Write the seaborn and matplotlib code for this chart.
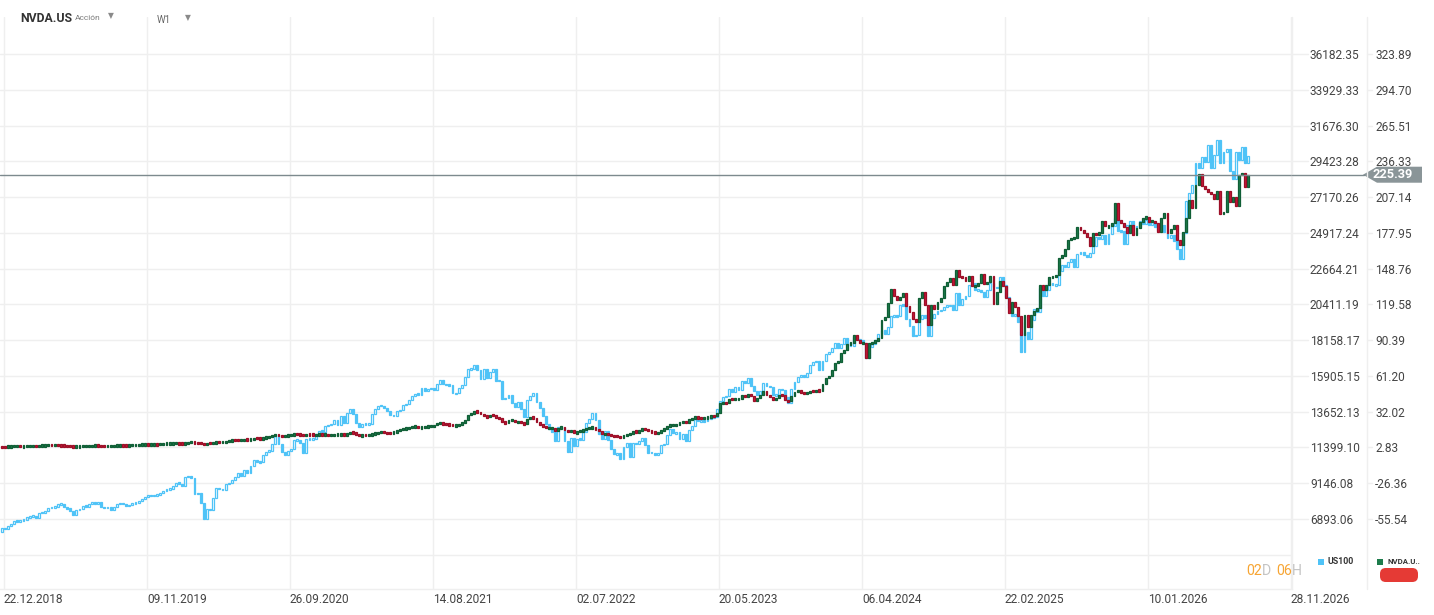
import numpy as np
import pandas as pd
import matplotlib
matplotlib.use("Agg")
import matplotlib.pyplot as plt
import matplotlib.dates as mdates
from matplotlib.patches import Polygon, Rectangle, FancyBboxPatch
from matplotlib.lines import Line2D
import seaborn as sns

# ---------------- data (weekly closes) ----------------
first_week = "2018-12-17"

us100_open0 = 6100
us100_2018 = [6330, 6260]
us100_2019 = [6430, 6590, 6780, 6760, 6800, 6840, 6990, 7080, 7110, 6930, 7300, 7280, 7380,
              7580, 7630, 7650, 7820, 7850, 7620, 7570, 7380, 7130, 7480, 7500, 7720, 7670,
              7860, 7940, 7850, 7990, 7620, 7600, 7630, 7450, 7660, 7860, 7900, 7850, 7700,
              7800, 7900, 7900, 8040, 8170, 8280, 8400, 8330, 8400, 8420, 8520, 8670, 8780]
us100_2020 = [8790, 8970, 9180, 9110, 8990, 9520, 9620, 9450, 8460, 8530, 7870, 6880, 7500,
              7490, 8230, 8830, 8780, 8720, 9120, 9150, 9320, 9560, 9820, 9590, 9950, 9760,
              10210, 10590, 10510, 10460, 10910, 11140, 11180, 11590, 12110, 11620, 11090,
              10940, 11150, 11300, 11860, 11900, 11670, 11050, 11940, 11940, 11940, 12260,
              12460, 12380, 12760, 12800]
us100_2021 = [12890, 13100, 12800, 13370, 12930, 13600, 13800, 13530, 12910, 12670, 12880,
              12860, 12900, 13480, 13850, 14040, 14020, 13860, 13720, 13430, 13400, 13690,
              13770, 14070, 14140, 14360, 14640, 14770, 14730, 15120, 14960, 15090, 15130,
              15030, 15370, 15650, 15400, 15330, 15310, 14800, 14800, 15130, 15350, 15850,
              16340, 16340, 16570, 16260, 15710, 16330, 15750, 16170, 16320]
us100_2022 = [15600, 15610, 14440, 14530, 14690, 14220, 13930, 14270, 13840, 13300, 14420,
              14670, 14860, 14280, 13900, 13380, 12850, 12580, 12390, 11830, 12680, 12620,
              11830, 11130, 11970, 11500, 11950, 11880, 12400, 12950, 13210, 13560, 13140,
              12270, 11930, 12420, 11870, 11310, 10970, 11040, 10690, 11450, 11670, 10790,
              11660, 11620, 11790, 12000, 11550, 11080, 11060, 10940]
us100_2023 = [11040, 11540, 11620, 12170, 12570, 12300, 12350, 11950, 12260, 11830, 12520,
              12770, 13180, 13060, 13080, 13050, 13250, 13240, 13340, 13820, 14300, 14550,
              14650, 15080, 14890, 15180, 15030, 15570, 15450, 15750, 15270, 14950, 14690,
              14940, 15430, 15290, 15200, 14700, 14720, 15080, 15000, 14550, 14180, 15100,
              15530, 15840, 15980, 15840, 16080, 16620, 16780, 16830]
us100_2024 = [16300, 16830, 17310, 17420, 17640, 18000, 17690, 17940, 18300, 17960, 17800,
              18340, 18250, 18170, 18000, 17040, 17720, 17890, 18160, 18550, 18810, 18540,
              19000, 19660, 19700, 19680, 20390, 20330, 19520, 19020, 18440, 18460, 19510,
              19720, 19570, 18420, 19580, 19790, 20000, 20040, 20270, 20320, 20350, 20030,
              21120, 20390, 20740, 20930, 21620, 21780, 21290, 21330]
us100_2025 = [21210, 20850, 21300, 21740, 21480, 21490, 22110, 21610, 20880, 20200, 19700,
              19750, 19280, 17400, 18690, 18260, 19430, 20100, 19930, 21430, 20920, 21340,
              21760, 21630, 21630, 22530, 22870, 22780, 23070, 23270, 22760, 23610, 23710,
              23500, 23420, 23650, 24090, 24630, 24500, 24790, 24220, 24820, 25350, 25860,
              25060, 25010, 24240, 25430, 25690, 25200, 25350, 25650]
us100_2026 = [25500, 25700, 25400, 25600, 25300, 25100, 25400, 25000, 24600, 24800, 24400,
              23900, 23300, 24900, 26900, 27400, 27900, 29300, 29000, 29700, 29400, 30450,
              29000, 29800, 30750, 29300, 30000, 30200, 28800, 28300, 30000, 29500, 30300,
              29300, 29750]

nvda_open0 = 3.45
nvda_2018 = [3.40, 3.33]
nvda_2019 = [3.60, 3.80, 3.90, 4.00, 3.62, 3.65, 3.95, 3.95, 3.95, 3.75, 4.30, 4.40, 4.49,
             4.75, 4.60, 4.78, 4.50, 4.45, 4.25, 3.95, 3.75, 3.38, 3.63, 3.63, 4.00, 4.11,
             4.13, 4.20, 4.45, 4.20, 4.00, 3.75, 3.95, 4.00, 4.17, 4.50, 4.58, 4.45, 4.30,
             4.65, 4.75, 4.78, 5.08, 5.13, 5.23, 5.20, 5.25, 5.40, 5.20, 5.63, 5.90, 5.95]
nvda_2020 = [6.00, 6.25, 6.25, 6.13, 5.92, 6.30, 7.12, 7.38, 6.70, 6.50, 6.00, 5.00, 6.58,
             6.25, 6.63, 7.25, 7.08, 7.13, 7.75, 8.00, 9.00, 8.88, 8.80, 8.88, 9.38, 9.13,
             9.50, 10.38, 10.25, 9.88, 10.63, 11.13, 11.50, 12.63, 13.13, 12.63, 12.13, 12.25,
             12.88, 13.00, 14.13, 13.63, 13.50, 12.50, 13.63, 13.50, 13.00, 13.38, 13.50,
             13.25, 13.25, 13.00]
nvda_2021 = [13.05, 13.30, 13.40, 13.70, 13.00, 14.00, 15.20, 14.80, 13.70, 12.30, 12.90,
             12.80, 12.90, 13.80, 14.40, 15.30, 15.50, 15.00, 14.50, 14.40, 15.50, 16.20,
             17.50, 17.90, 18.80, 19.00, 20.00, 20.00, 19.00, 19.50, 19.50, 20.20, 20.30,
             20.80, 22.70, 22.80, 22.20, 22.00, 21.40, 20.70, 20.80, 21.80, 22.70, 25.50,
             29.70, 30.40, 32.90, 31.50, 30.20, 28.20, 27.80, 29.60, 29.40]
nvda_2022 = [27.2, 26.5, 23.3, 22.9, 25.0, 25.0, 23.6, 24.1, 23.0, 21.9, 26.4, 27.7, 26.7,
             23.3, 21.5, 20.1, 18.5, 18.7, 18.7, 16.6, 18.8, 19.3, 17.0, 15.8, 17.1, 14.5,
             15.9, 16.2, 17.4, 18.2, 19.0, 19.0, 17.5, 16.3, 13.7, 14.3, 13.2, 12.5, 12.1,
             12.0, 11.2, 12.5, 13.8, 14.1, 16.3, 15.4, 16.5, 18.7, 17.5, 16.6, 15.3, 14.6]
nvda_2023 = [14.9, 16.9, 17.8, 20.3, 21.1, 21.3, 21.4, 23.3, 23.9, 22.9, 25.7, 26.7, 27.8,
             27.0, 26.7, 27.1, 27.7, 28.7, 28.3, 31.3, 38.9, 39.3, 38.8, 42.6, 42.2, 42.3,
             42.5, 45.5, 44.4, 46.8, 44.7, 40.9, 43.3, 46.0, 48.5, 45.6, 43.9, 41.6, 43.5,
             45.7, 45.5, 41.3, 40.5, 45.0, 48.3, 49.3, 47.8, 46.7, 47.5, 48.9, 48.8, 49.5]
nvda_2024 = [49.1, 54.7, 59.5, 61.0, 66.2, 72.1, 72.6, 79.9, 82.3, 87.5, 87.9, 94.3, 90.4,
             88.0, 88.1, 76.2, 87.7, 88.8, 89.9, 92.5, 106.5, 109.6, 120.9, 131.9, 126.6,
             123.5, 125.8, 129.2, 117.9, 113.1, 107.3, 104.8, 124.6, 129.4, 119.4, 102.8,
             119.1, 116.0, 121.4, 124.9, 134.8, 138.0, 141.5, 135.4, 148.0, 142.0, 141.9,
             138.3, 142.4, 134.3, 134.7, 137.0]
nvda_2025 = [144.5, 135.9, 137.7, 142.6, 120.1, 129.8, 138.9, 134.4, 124.9, 112.7, 121.7,
             117.7, 109.7, 94.3, 110.9, 101.5, 111.0, 114.5, 116.7, 135.4, 131.3, 135.1,
             141.7, 142.0, 143.9, 157.8, 159.3, 164.9, 172.4, 173.5, 173.7, 182.7, 180.5,
             178.0, 174.2, 167.0, 177.8, 176.7, 178.2, 187.6, 183.2, 183.2, 186.3, 202.5,
             188.2, 186.0, 183.0, 178.0, 184.0, 176.0, 182.0, 187.0]
nvda_2026 = [190, 191, 187, 188, 186, 179, 190, 194, 178, 181, 184, 172, 168, 179, 190, 205,
             198, 217, 226, 216, 214, 211, 210, 205.6, 212, 193, 195, 212, 203, 207, 200,
             225, 227, 215, 225.39]

us100_tick_labels = ["36182.35", "33929.33", "31676.30", "29423.28", "27170.26", "24917.24",
                     "22664.21", "20411.19", "18158.17", "15905.15", "13652.13", "11399.10",
                     "9146.08", "6893.06"]
us100_extra_grid = [4640.04]
nvda_tick_labels = ["323.89", "294.70", "265.51", "236.33", "207.14", "177.95", "148.76",
                    "119.58", "90.39", "61.20", "32.02", "2.83", "-26.36", "-55.54"]
nvda_extra_grid = [-84.73]
date_labels = ["22.12.2018", "09.11.2019", "26.09.2020", "14.08.2021", "02.07.2022",
               "20.05.2023", "06.04.2024", "22.02.2025", "10.01.2026", "28.11.2026"]

symbol = "NVDA.US"
asset_kind = "Acción"
interval = "W1"
legend_names = ["US100", "NVDA.U.."]
countdown = [("02", "#f7a533"), ("D", "#c4c4c4"), (" ", "#c4c4c4"), ("06", "#f7a533"),
             ("H", "#c4c4c4")]

# ---------------- styling ----------------
W, H = 1434, 615
BLUE = "#4fc3f7"
GREEN, GREEN_E = "#1d7c4c", "#0f5e35"
RED, RED_E = "#c8193a", "#9c0f27"
GRID = "#efefef"
TXT = "#444444"

sns.set_theme(style="white")
plt.rcParams["font.family"] = ["Roboto", "DejaVu Sans"]


def fx(px):
    return px / W


def fy(py):
    return 1 - py / H


fig = plt.figure(figsize=(W / 100, H / 100), dpi=100)
fig.patch.set_facecolor("white")
ax = fig.add_axes([0, fy(589), fx(1292), (589 - 17) / H])
ax2 = ax.twinx()

us_close = np.array(us100_2018 + us100_2019 + us100_2020 + us100_2021 + us100_2022 +
                    us100_2023 + us100_2024 + us100_2025 + us100_2026, float)
nv_close = np.array(nvda_2018 + nvda_2019 + nvda_2020 + nvda_2021 + nvda_2022 +
                    nvda_2023 + nvda_2024 + nvda_2025 + nvda_2026, float)
dates = pd.date_range(first_week, periods=len(us_close), freq="W-MON")
xs = mdates.date2num(dates)

us_open = np.concatenate([[us100_open0], us_close[:-1]])
nv_open = np.concatenate([[nvda_open0], nv_close[:-1]])

# y scales (both price columns share the same gridlines)
us_vals = [float(v) for v in us100_tick_labels]
nv_vals = [float(v) for v in nvda_tick_labels]
us_step = (us_vals[0] - us_vals[-1]) / (len(us_vals) - 1)
nv_step = (nv_vals[0] - nv_vals[-1]) / (len(nv_vals) - 1)
px_per_step = (519 - 54) / (len(us_vals) - 1)
us_pp = us_step / px_per_step
nv_pp = nv_step / px_per_step
ax.set_ylim(us_vals[0] - (589 - 54) * us_pp, us_vals[0] + (54 - 17) * us_pp)
ax2.set_ylim(nv_vals[0] - (589 - 54) * nv_pp, nv_vals[0] + (54 - 17) * nv_pp)

# x scale
tick_dates = pd.to_datetime(date_labels, format="%d.%m.%Y")
tnum = mdates.date2num(tick_dates)
px_per_day = (1291 - 4) / (tnum[-1] - tnum[0])
x_left = tnum[0] - 4 / px_per_day
ax.set_xlim(x_left, x_left + 1292 / px_per_day)


def candles(axh, o, c, min_h, hollow_up, up_face, up_edge, dn_face, dn_edge):
    lo = np.minimum(o, c)
    hi = np.maximum(o, c)
    h = hi - lo
    mid = (lo + hi) / 2
    small = h < min_h
    lo = np.where(small, mid - min_h / 2, lo)
    h = np.where(small, min_h, h)
    up = c >= o
    dn = ~up
    width = 1.9 / px_per_day
    axh.bar(xs[up], h[up], bottom=lo[up], width=width,
            color=("none" if hollow_up else up_face), edgecolor=up_edge,
            linewidth=0.9, zorder=3)
    axh.bar(xs[dn], h[dn], bottom=lo[dn], width=width, color=dn_face,
            edgecolor=dn_edge, linewidth=0.9, zorder=3)


candles(ax, us_open, us_close, 1.6 * us_pp, True, BLUE, BLUE, BLUE, BLUE)
candles(ax2, nv_open, nv_close, 2.4 * nv_pp, False, GREEN, GREEN_E, RED, RED_E)

# grid and ticks
ax.set_yticks(us_vals + us100_extra_grid)
ax.set_yticklabels(us100_tick_labels + [""] * len(us100_extra_grid))
ax2.set_yticks(nv_vals + nvda_extra_grid)
ax2.set_yticklabels(nvda_tick_labels + [""] * len(nvda_extra_grid))
ax.yaxis.tick_right()
ax.tick_params(axis="y", length=0, pad=18 * 0.72, labelsize=8.6, labelcolor=TXT)
ax2.tick_params(axis="y", length=0, pad=83 * 0.72, labelsize=8.6, labelcolor=TXT)
ax.set_xticks(tnum)
ax.set_xticklabels(date_labels)
for lab in ax.get_xticklabels():
    lab.set_horizontalalignment("left")
ax.tick_params(axis="x", length=0, pad=3, labelsize=8.6, labelcolor=TXT)
ax.grid(True, color=GRID, linewidth=1.0)
ax2.grid(False)
ax.set_axisbelow(True)
for a in (ax, ax2):
    for s in ("top", "left", "right", "bottom"):
        a.spines[s].set_visible(False)
    a.patch.set_alpha(0)
ax.spines["bottom"].set_visible(True)
ax.spines["bottom"].set_color(GRID)
ax.spines["bottom"].set_linewidth(1.0)

# column separators and tick dashes
for xp in (1292, 1367):
    fig.add_artist(Line2D([fx(xp), fx(xp)], [fy(17), fy(589)], color=GRID, lw=1.0))
for v in us_vals:
    yy = fig.transFigure.inverted().transform(ax.transData.transform((x_left, v)))[1]
    fig.add_artist(Line2D([fx(1292), fx(1308)], [yy, yy], color=GRID, lw=1.0))
    fig.add_artist(Line2D([fx(1367), fx(1372)], [yy, yy], color=GRID, lw=1.0))

# last price line and label
last = nv_close[-1]
ax2.axhline(last, color="#7d8a8e", lw=1.0, zorder=4)
yl = fig.transFigure.inverted().transform(ax2.transData.transform((x_left, last)))[1]
fig.add_artist(Line2D([fx(1292), fx(1364)], [yl, yl], color="#7d8a8e", lw=1.0))
hh = 8 / H
poly = Polygon([(fx(1363), yl), (fx(1377), yl + hh), (fx(1422), yl + hh),
                (fx(1422), yl - hh), (fx(1377), yl - hh)], closed=True,
               transform=fig.transFigure, facecolor="#8a9598", edgecolor="none")
fig.add_artist(poly)
fig.text(fx(1393), yl, f"{last:.2f}", color="white", fontsize=9.2, fontweight="bold",
         ha="center", va="center", zorder=6)

# header
fig.text(fx(20), fy(18), symbol, fontsize=8.8, fontweight="bold", color="#333333",
         va="center", ha="left", zorder=6)
fig.text(fx(75), fy(18.5), asset_kind, fontsize=6.0, color="#7a7a7a", va="center",
         ha="left", zorder=6)
fig.text(fx(111), fy(16), "▼", fontsize=5.5, color="#8a8a8a", va="center", ha="center",
         zorder=6)
fig.text(fx(157), fy(20), interval, fontsize=7.0, color="#666666", va="center", ha="left",
         zorder=6)
fig.text(fx(188), fy(18), "▼", fontsize=5.5, color="#8a8a8a", va="center", ha="center",
         zorder=6)

# legend
fig.add_artist(Rectangle((fx(1318), fy(565)), 6 / W, 6 / H, transform=fig.transFigure,
                         facecolor=BLUE, edgecolor="none"))
fig.text(fx(1327), fy(562), legend_names[0], fontsize=6.3, fontweight="bold",
         color="#333333", va="center", ha="left")
fig.add_artist(Rectangle((fx(1377), fy(565)), 6 / W, 6 / H, transform=fig.transFigure,
                         facecolor=GREEN, edgecolor="none"))
fig.text(fx(1387), fy(562), legend_names[1], fontsize=5.6, fontweight="bold",
         color="#333333", va="center", ha="left")
fig.add_artist(FancyBboxPatch((fx(1380), fy(582)), 38 / W, 14 / H,
                              boxstyle="round,pad=0,rounding_size=0.004",
                              transform=fig.transFigure, facecolor="#e53a35",
                              edgecolor="none", mutation_aspect=W / H))

# countdown (pieces placed one after another by measured width)
renderer = fig.canvas.get_renderer()
xc = 1246.0
for txt, col in countdown:
    t = fig.text(fx(xc), fy(571), txt, fontsize=10.2, color=col, va="center", ha="left")
    if txt.strip():
        xc += t.get_window_extent(renderer).width
    else:
        xc += 5.5

fig.savefig("out.png", dpi=100, facecolor="white")
